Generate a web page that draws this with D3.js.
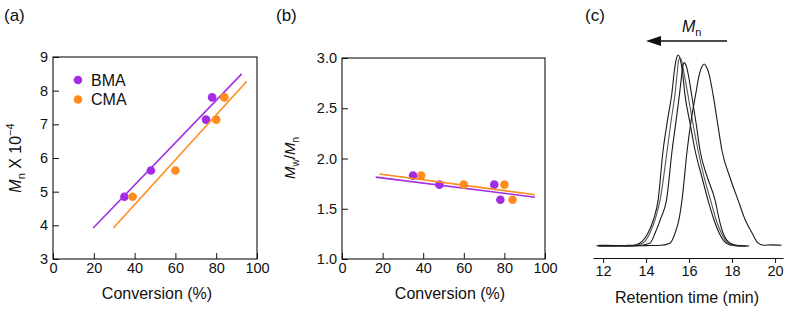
<!DOCTYPE html>
<html>
<head>
<meta charset="utf-8">
<script src="https://cdn.jsdelivr.net/npm/d3@7"></script>
<style>
  body { margin: 0; background: #fff; }
  svg { font-family: "Liberation Sans", Arial, sans-serif; }
</style>
</head>
<body>
<svg id="chart" width="789" height="316"></svg>
<script>
// ---- data ----
// (a) Mn x 10^-4 vs conversion
var bmaConv = [35, 48, 75, 78];
var bmaMn = [4.85, 5.63, 7.14, 7.8];
var cmaConv = [39, 60, 80, 84];
var cmaMn = [4.85, 5.63, 7.14, 7.8];
var bmaMnFit = [[19.7, 3.92], [92.5, 8.5]];
var cmaMnFit = [[29.6, 3.92], [94.9, 8.27]];

// (b) Mw/Mn vs conversion
var bmaPdi = [1.83, 1.74, 1.74, 1.59];
var cmaPdi = [1.83, 1.74, 1.74, 1.59];
var bmaPdiFit = [[16.6, 1.815], [95, 1.615]];
var cmaPdiFit = [[18.4, 1.845], [95, 1.64]];

var convTicks = [0, 20, 40, 60, 80, 100];
var mnTicks = [3, 4, 5, 6, 7, 8, 9];
var pdiTicks = [1.0, 1.5, 2.0, 2.5, 3.0];

// (c) GPC traces, retention time (min) and normalised signal
var traceA = [[11.7, 0.002], [12.4, 0.0], [13.0, 0.003], [13.4, 0.004], [13.72, 0.016], [14.09, 0.068], [14.35, 0.14], [14.56, 0.24],
  [14.79, 0.5], [15.0, 0.66], [15.2, 0.8], [15.33, 0.93], [15.42, 0.985], [15.49, 1.0], [15.57, 0.985], [15.67, 0.93], [15.81, 0.79], [16.05, 0.64],
  [16.28, 0.5], [16.6, 0.36], [16.88, 0.24], [17.15, 0.14], [17.4, 0.068], [17.72, 0.016], [18.1, 0.002], [18.6, 0.0]];
var traceB = [[11.75, 0.0], [12.5, 0.002], [13.1, 0.0], [13.5, 0.004], [13.86, 0.016], [14.18, 0.068], [14.45, 0.15], [14.65, 0.24],
  [14.98, 0.5], [15.17, 0.66], [15.35, 0.8], [15.46, 0.92], [15.51, 0.97], [15.58, 0.985], [15.65, 0.97], [15.74, 0.92], [15.95, 0.79], [16.18, 0.64],
  [16.42, 0.5], [16.7, 0.36], [17.0, 0.24], [17.25, 0.14], [17.5, 0.068], [17.8, 0.016], [18.2, 0.002], [18.7, 0.0]];
var traceC = [[11.8, 0.004], [12.6, 0.002], [13.3, 0.0], [13.8, 0.004], [14.19, 0.016], [14.42, 0.068], [14.7, 0.15], [14.95, 0.24],
  [15.21, 0.5], [15.4, 0.66], [15.56, 0.8], [15.66, 0.9], [15.71, 0.945], [15.78, 0.96], [15.86, 0.945], [15.96, 0.9], [16.12, 0.79], [16.33, 0.64],
  [16.51, 0.5], [16.85, 0.36], [17.21, 0.24], [17.4, 0.14], [17.58, 0.068], [17.9, 0.016], [18.3, 0.002], [18.8, 0.0]];
var traceD = [[11.8, 0.0], [13.0, 0.0], [14.0, 0.002], [14.7, 0.004], [15.12, 0.016], [15.35, 0.068], [15.55, 0.15], [15.67, 0.24],
  [15.91, 0.5], [16.1, 0.66], [16.3, 0.79], [16.48, 0.9], [16.6, 0.94], [16.7, 0.953], [16.8, 0.94], [16.93, 0.9], [17.12, 0.79], [17.33, 0.64],
  [17.53, 0.5], [17.9, 0.36], [18.28, 0.24], [18.6, 0.14], [18.93, 0.068], [19.2, 0.016], [19.45, 0.004], [19.8, 0.006], [20.3, 0.004]];
var rtTicks = [12, 14, 16, 18, 20];

var purple = "#a22de4";
var orange = "#ff8c1c";

var svg = d3.select("#chart");

// small helper for the scatter panels
function scatterPanel(left, right, top, bottom, yDomain, yTicks, yFmt) {
    var x = d3.scaleLinear().domain([0, 100]).range([left, right]);
    var y = d3.scaleLinear().domain(yDomain).range([bottom, top]);
    var g = svg.append("g");

    var gX = g.append("g")
        .attr("transform", "translate(0," + bottom + ")")
        .call(d3.axisBottom(x).tickValues(convTicks).tickSizeInner(-6).tickSizeOuter(0).tickPadding(4));
    var gY = g.append("g")
        .attr("transform", "translate(" + left + ",0)")
        .call(d3.axisLeft(y).tickValues(yTicks).tickFormat(yFmt).tickSizeInner(-6).tickSizeOuter(0).tickPadding(5));
    [gX, gY].forEach(function (a) {
        a.select(".domain").remove();
        a.selectAll("text").attr("font-size", 14.5).attr("fill", "#111").attr("font-family", null);
        a.selectAll("line").attr("stroke", "#111");
    });

    g.append("rect")
        .attr("x", left).attr("y", top)
        .attr("width", right - left).attr("height", bottom - top)
        .attr("fill", "none").attr("stroke", "#111").attr("stroke-width", 1.1);
    return { g: g, x: x, y: y };
}

function drawSeries(p, conv, vals, fit, color) {
    var line = d3.line().x(function (d) { return p.x(d[0]); }).y(function (d) { return p.y(d[1]); });
    p.g.append("path").attr("d", line(fit)).attr("stroke", color).attr("stroke-width", 1.6).attr("fill", "none");
    p.g.selectAll(null).data(conv).enter().append("circle")
        .attr("cx", function (d) { return p.x(d); })
        .attr("cy", function (d, i) { return p.y(vals[i]); })
        .attr("r", 4.3)
        .attr("fill", color);
}

// ---- panel (a) ----
var pa = scatterPanel(53, 257, 57, 259, [3, 9], mnTicks, d3.format("d"));
drawSeries(pa, bmaConv, bmaMn, bmaMnFit, purple);
drawSeries(pa, cmaConv, cmaMn, cmaMnFit, orange);

var legend = [["BMA", purple], ["CMA", orange]];
legend.forEach(function (l, i) {
    pa.g.append("circle").attr("cx", 78).attr("cy", 80 + i * 19.5).attr("r", 4.3).attr("fill", l[1]);
    pa.g.append("text").attr("x", 91).attr("y", 80 + i * 19.5).attr("dy", "0.35em")
        .attr("font-size", 16).attr("fill", "#111").text(l[0]);
});

svg.append("text").attr("x", 157).attr("y", 293).attr("dy", "0.35em").attr("text-anchor", "middle")
    .attr("font-size", 16).attr("fill", "#111").text("Conversion (%)");

var ta = svg.append("text").attr("transform", "translate(21,158) rotate(-90)")
    .attr("text-anchor", "middle").attr("font-size", 16).attr("fill", "#111");
ta.append("tspan").attr("font-style", "italic").text("M");
ta.append("tspan").attr("font-size", 11).attr("dy", 4).text("n");
ta.append("tspan").attr("dy", -4).text(" X 10");
ta.append("tspan").attr("font-size", 11).attr("dy", -7).text("\u22124");

// ---- panel (b) ----
var pb = scatterPanel(342, 545, 58, 259, [1, 3], pdiTicks, d3.format(".1f"));
drawSeries(pb, bmaConv, bmaPdi, bmaPdiFit, purple);
drawSeries(pb, cmaConv, cmaPdi, cmaPdiFit, orange);

svg.append("text").attr("x", 450).attr("y", 293).attr("dy", "0.35em").attr("text-anchor", "middle")
    .attr("font-size", 16).attr("fill", "#111").text("Conversion (%)");

var tb = svg.append("text").attr("transform", "translate(295,158) rotate(-90)")
    .attr("text-anchor", "middle").attr("font-size", 15).attr("fill", "#111");
tb.append("tspan").attr("font-style", "italic").text("M");
tb.append("tspan").attr("font-size", 10).attr("dy", 4).text("w");
tb.append("tspan").attr("dy", -4).text("/");
tb.append("tspan").attr("font-style", "italic").text("M");
tb.append("tspan").attr("font-size", 10).attr("dy", 4).text("n");

// ---- panel (c) ----
var xc = d3.scaleLinear().domain([11.53, 20.37]).range([593, 783]);
var yc = d3.scaleLinear().domain([0, 1]).range([246, 55]);

var gXc = svg.append("g")
    .attr("transform", "translate(0,258)")
    .call(d3.axisBottom(xc).tickValues(rtTicks).tickSizeInner(5).tickSizeOuter(0).tickPadding(3));
gXc.select(".domain").attr("stroke", "#111");
gXc.selectAll("line").attr("stroke", "#111");
gXc.selectAll("text").attr("font-size", 14.5).attr("fill", "#111").attr("font-family", null);

var trace = d3.line()
    .x(function (d) { return xc(d[0]); })
    .y(function (d) { return yc(d[1]); })
    .curve(d3.curveMonotoneX);

[traceA, traceB, traceC, traceD].forEach(function (t, i) {
    svg.append("path").attr("d", trace(t))
        .attr("fill", "none")
        .attr("stroke", i == 1 ? "#555" : "#1a1a1a")
        .attr("stroke-width", 1.1);
});

// Mn arrow
svg.append("line")
    .attr("x1", 727).attr("y1", 41).attr("x2", 650).attr("y2", 41)
    .attr("stroke", "#111").attr("stroke-width", 1.5);
svg.append("path").attr("d", "M646,41L661,36L661,46Z").attr("fill", "#111");

var tm = svg.append("text").attr("x", 682).attr("y", 32).attr("font-size", 16).attr("fill", "#111");
tm.append("tspan").attr("font-style", "italic").text("M");
tm.append("tspan").attr("font-size", 11).attr("dy", 4).text("n");

svg.append("text").attr("x", 687).attr("y", 297).attr("dy", "0.35em").attr("text-anchor", "middle")
    .attr("font-size", 16).attr("fill", "#111").text("Retention time (min)");

// panel labels
[["(a)", 4], ["(b)", 276], ["(c)", 585]].forEach(function (p) {
    svg.append("text").attr("x", p[1]).attr("y", 21).attr("font-size", 17).attr("fill", "#111").text(p[0]);
});
</script>
</body>
</html>
